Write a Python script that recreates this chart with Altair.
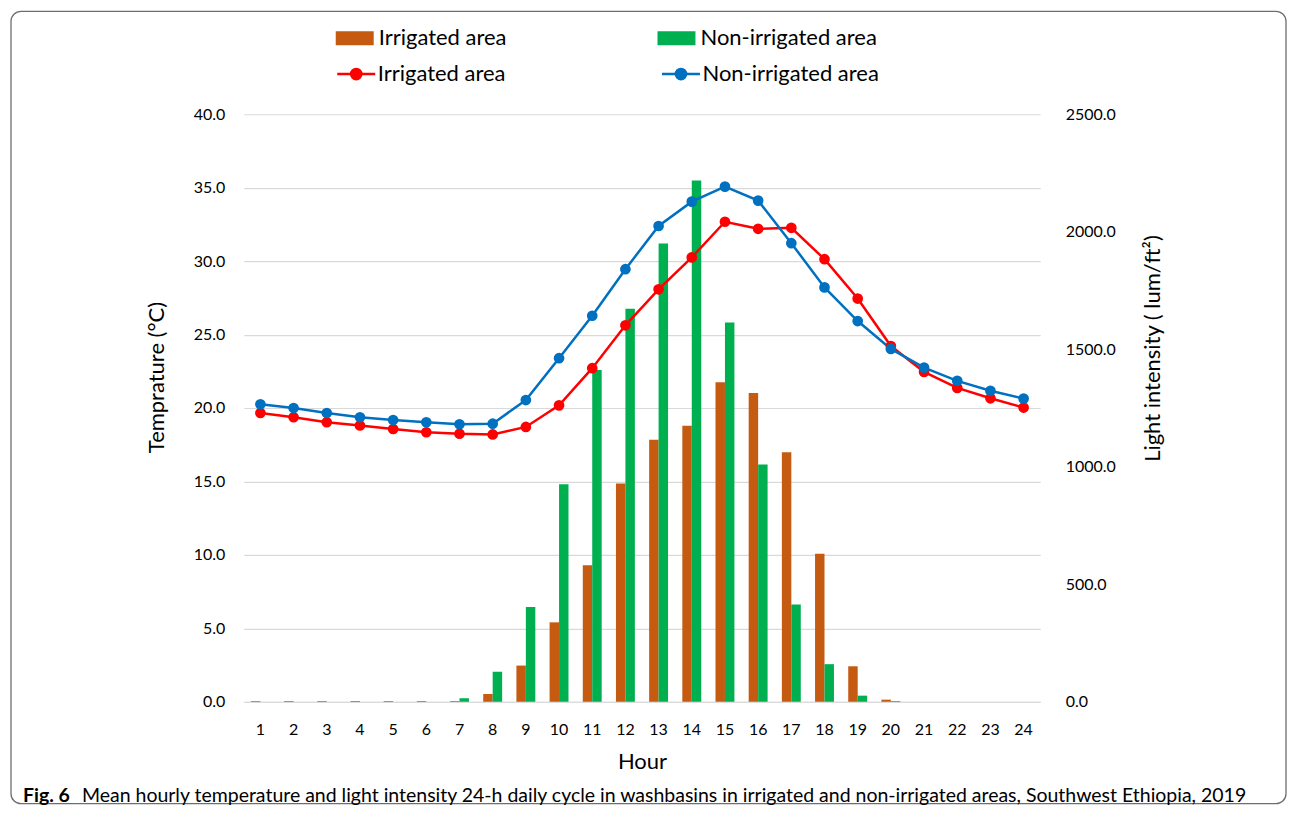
import altair as alt
import pandas as pd

hours = list(range(1, 25))
series = ["Irrigated area", "Non-irrigated area"]

light_irrigated = [3, 3, 3, 3, 3, 3, 3, 33, 154, 338, 581, 929, 1115, 1174, 1360, 1314,
                   1062, 630, 151, 9, 0, 0, 0, 0]
light_non_irrigated = [0, 0, 0, 0, 0, 0, 15, 128, 403, 926, 1412, 1672, 1950, 2218, 1614, 1010,
                       414, 160, 26, 3, 0, 0, 0, 0]
temp_irrigated = [19.66, 19.37, 19.03, 18.81, 18.57, 18.35, 18.25, 18.20, 18.71, 20.18, 22.71, 25.63,
                  28.08, 30.25, 32.68, 32.20, 32.27, 30.13, 27.45, 24.22, 22.46, 21.37, 20.66, 20.03]
temp_non_irrigated = [20.25, 20.00, 19.66, 19.37, 19.18, 19.03, 18.89, 18.93, 20.54, 23.39, 26.28, 29.45,
                      32.39, 34.05, 35.07, 34.12, 31.22, 28.21, 25.92, 24.02, 22.75, 21.85, 21.17, 20.64]

bar_colors = ["#C55A11", "#00B050"]
line_colors = ["#FF0000", "#0070C0"]

caption_bold = "Fig. 6"
caption_text = ("Mean hourly temperature and light intensity 24-h daily cycle in washbasins in "
                "irrigated and non-irrigated areas, Southwest Ethiopia, 2019")

FONT = "Lato"

bars_df = pd.DataFrame({
    "hour": hours * 2,
    "series": [series[0]] * 24 + [series[1]] * 24,
    "light": light_irrigated + light_non_irrigated,
})
lines_df = pd.DataFrame({
    "hour": hours * 2,
    "series": [series[0]] * 24 + [series[1]] * 24,
    "temp": temp_irrigated + temp_non_irrigated,
})

x_enc = alt.X("hour:O", title="Hour",
              scale=alt.Scale(paddingInner=0.43, paddingOuter=0.215),
              axis=alt.Axis(labelAngle=0, ticks=False, tickSize=0, labelPadding=20,
                            titleY=60, titleBaseline="middle",
                            domainColor="#D9D9D9", grid=False))

bars = alt.Chart(bars_df).mark_bar().encode(
    x=x_enc,
    xOffset=alt.XOffset("series:N", scale=alt.Scale(domain=series, paddingInner=0, paddingOuter=0)),
    y=alt.Y("light:Q", title="Light intensity ( lum/ft\u00b2)",
            scale=alt.Scale(domain=[0, 2500], nice=False),
            axis=alt.Axis(orient="right", values=[0, 500, 1000, 1500, 2000, 2500], format=".1f",
                          grid=False, ticks=False, tickSize=0, domain=False, labelPadding=25,
                          titleAngle=270, titleX=112, titleY=234, titleBaseline="middle",
                          titleAlign="center")),
    color=alt.Color("series:N", scale=alt.Scale(domain=series, range=bar_colors),
                    legend=alt.Legend(title=None, orient="none", legendX=92, legendY=-95,
                                      direction="horizontal", columns=2, columnPadding=151,
                                      symbolType="M-1,-0.368L1,-0.368L1,0.368L-1,0.368Z",
                                      symbolSize=1444, symbolStrokeWidth=0, symbolOpacity=1,
                                      labelFont=FONT, labelFontSize=22, labelColor="black",
                                      labelOffset=5, padding=0, labelLimit=400)),
)

def line_legend():
    return alt.Legend(title=None, orient="none", legendX=92, legendY=-61,
                      direction="horizontal", columns=2, columnPadding=151,
                      symbolType="M-1,0L1,0M-0.27,0A0.27,0.27,0,1,0,0.27,0A0.27,0.27,0,1,0,-0.27,0Z",
                      symbolSize=1444, symbolStrokeWidth=2.5, symbolOpacity=1,
                      labelFont=FONT, labelFontSize=22, labelColor="black",
                      labelOffset=1, padding=0, labelLimit=400)

y_temp = alt.Y("temp:Q", title="Temprature (\u00b0C)",
               scale=alt.Scale(domain=[0, 40], nice=False),
               axis=alt.Axis(orient="left", values=[0, 5, 10, 15, 20, 25, 30, 35, 40], format=".1f",
                             grid=True, gridColor="#D9D9D9", gridWidth=1.2, ticks=False, tickSize=0,
                             domain=False, labelPadding=19,
                             titleAngle=270, titleX=-87, titleY=263, titleBaseline="middle",
                             titleAlign="center"))

line = alt.Chart(lines_df).mark_line(strokeWidth=2.5).encode(
    x=x_enc, y=y_temp,
    stroke=alt.Stroke("series:N", scale=alt.Scale(domain=series, range=line_colors), legend=line_legend()))
pts = alt.Chart(lines_df).mark_circle(size=115, opacity=1).encode(
    x=x_enc, y=y_temp,
    fill=alt.Fill("series:N", scale=alt.Scale(domain=series, range=line_colors), legend=line_legend()))
lines_layer = alt.layer(line, pts)

one = pd.DataFrame({"k": [0]})
border = alt.Chart(one).mark_rect(fill="transparent", stroke="#6E6E6E", strokeWidth=1.3,
                                  cornerRadius=10).encode(
    x=alt.value(-233), x2=alt.value(1043), y=alt.value(-103), y2=alt.value(690))
cap1 = alt.Chart(one).mark_text(align="left", baseline="middle", font=FONT, fontSize=19.5,
                                fontWeight="bold", color="black").encode(
    x=alt.value(-221), y=alt.value(682), text=alt.value(caption_bold))
cap2 = alt.Chart(one).mark_text(align="left", baseline="middle", font=FONT, fontSize=19.5,
                                color="black").encode(
    x=alt.value(-162), y=alt.value(682), text=alt.value(caption_text))

chart = alt.layer(bars, lines_layer, border, cap1, cap2).resolve_scale(
    y="independent", color="independent"
).properties(
    width=797, height=588,
    padding={"left": 2, "top": 2, "right": 0, "bottom": 0},
).configure_view(stroke=None).configure_axis(
    labelFont=FONT, labelFontSize=16, labelColor="black",
    titleFont=FONT, titleFontSize=22, titleFontWeight="normal", titleColor="black",
)

chart.save("out.html", embed_options={"renderer": "svg", "actions": False})
